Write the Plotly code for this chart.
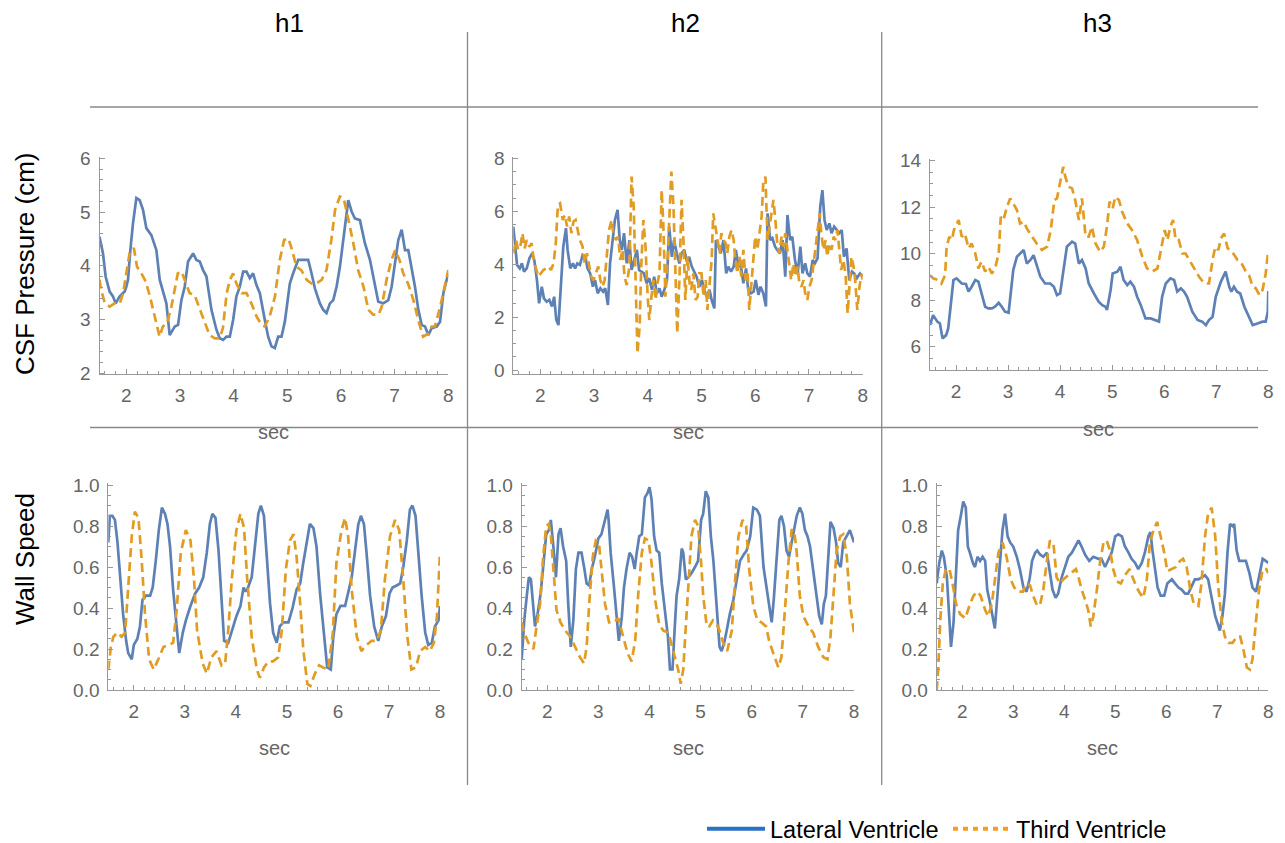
import plotly.graph_objects as go

W, H = 1285, 843

# ---------------- data (seconds, values) ----------------
# CSF Pressure (cm), h1
h1_csf_lat_t = [1.5, 1.565, 1.614, 1.689, 1.751, 1.801, 1.876, 1.969, 2.0, 2.031, 2.075, 2.124, 2.187, 2.249, 2.311, 2.373, 2.466, 2.56, 2.622, 2.746, 2.808, 2.902, 2.964, 3.026, 3.088, 3.15, 3.244, 3.306, 3.368, 3.43, 3.493, 3.586, 3.679, 3.741, 3.803, 3.866, 3.928, 3.99, 4.052, 4.114, 4.177, 4.239, 4.301, 4.363, 4.425, 4.488, 4.581, 4.643, 4.705, 4.767, 4.83, 4.892, 4.954, 5.047, 5.109, 5.203, 5.296, 5.389, 5.451, 5.514, 5.607, 5.669, 5.731, 5.794, 5.856, 5.918, 5.98, 6.073, 6.136, 6.198, 6.26, 6.353, 6.446, 6.54, 6.633, 6.695, 6.789, 6.882, 6.944, 7.006, 7.068, 7.131, 7.193, 7.255, 7.317, 7.379, 7.442, 7.504, 7.566, 7.628, 7.69, 7.784, 7.846, 7.908, 8.0]
h1_csf_lat_v = [4.54, 4.23, 3.80, 3.52, 3.43, 3.30, 3.43, 3.52, 3.61, 3.74, 4.29, 4.79, 5.26, 5.22, 5.04, 4.70, 4.57, 4.29, 3.74, 3.30, 2.71, 2.87, 2.90, 3.36, 3.61, 4.08, 4.23, 4.11, 4.08, 3.92, 3.80, 3.18, 2.81, 2.65, 2.62, 2.68, 2.68, 2.99, 3.43, 3.61, 3.89, 3.89, 3.77, 3.86, 3.64, 3.49, 2.99, 2.68, 2.50, 2.47, 2.68, 2.68, 2.96, 3.67, 3.86, 4.11, 4.11, 4.11, 3.86, 3.58, 3.30, 3.18, 3.12, 3.30, 3.36, 3.61, 3.98, 4.73, 5.22, 5.01, 4.88, 4.85, 4.42, 4.11, 3.64, 3.33, 3.30, 3.36, 3.61, 4.05, 4.48, 4.67, 4.29, 4.29, 3.98, 3.61, 3.18, 2.90, 2.87, 2.71, 2.84, 2.87, 2.96, 3.49, 3.86]
h1_csf_third_t = [1.5, 1.53, 1.60, 1.69, 1.78, 1.88, 1.94, 2.0, 2.06, 2.14, 2.20, 2.28, 2.36, 2.44, 2.53, 2.62, 2.68, 2.76, 2.84, 2.90, 2.96, 3.03, 3.09, 3.18, 3.27, 3.37, 3.46, 3.55, 3.65, 3.74, 3.80, 3.87, 3.93, 3.99, 4.05, 4.15, 4.24, 4.33, 4.43, 4.52, 4.58, 4.67, 4.77, 4.86, 4.94, 5.02, 5.09, 5.17, 5.26, 5.36, 5.45, 5.54, 5.64, 5.73, 5.82, 5.89, 5.98, 6.05, 6.14, 6.23, 6.32, 6.42, 6.51, 6.60, 6.70, 6.76, 6.85, 6.94, 7.01, 7.09, 7.16, 7.25, 7.35, 7.44, 7.53, 7.63, 7.69, 7.75, 7.85, 7.94, 8.0]
h1_csf_third_v = [3.74, 3.55, 3.30, 3.24, 3.30, 3.30, 3.49, 3.86, 4.23, 4.33, 3.98, 3.86, 3.71, 3.43, 3.05, 2.68, 2.87, 2.93, 3.24, 3.55, 3.86, 3.89, 3.74, 3.49, 3.46, 3.18, 2.93, 2.71, 2.65, 2.65, 2.84, 3.49, 3.74, 3.86, 3.67, 3.49, 3.49, 3.30, 3.05, 2.90, 2.87, 3.05, 3.43, 4.11, 4.48, 4.51, 4.29, 3.98, 3.92, 3.74, 3.67, 3.67, 3.74, 3.92, 4.48, 5.04, 5.29, 5.26, 4.85, 4.42, 3.92, 3.61, 3.18, 3.09, 3.09, 3.24, 3.74, 4.11, 4.29, 4.11, 3.86, 3.67, 3.36, 2.99, 2.68, 2.74, 2.87, 2.87, 3.24, 3.67, 3.92]

# CSF Pressure (cm), h2
h2_csf_lat_t = [1.5, 1.535, 1.57, 1.62, 1.66, 1.70, 1.75, 1.80, 1.85, 1.89, 1.94, 1.98, 2.03, 2.07, 2.12, 2.17, 2.22, 2.26, 2.30, 2.34, 2.38, 2.43, 2.48, 2.51, 2.56, 2.61, 2.65, 2.69, 2.74, 2.79, 2.84, 2.88, 2.93, 2.98, 3.02, 3.07, 3.12, 3.17, 3.21, 3.26, 3.30, 3.35, 3.39, 3.44, 3.48, 3.52, 3.56, 3.61, 3.66, 3.70, 3.75, 3.80, 3.84, 3.89, 3.93, 3.98, 4.03, 4.08, 4.12, 4.17, 4.22, 4.26, 4.31, 4.36, 4.40, 4.45, 4.49, 4.54, 4.59, 4.63, 4.68, 4.73, 4.77, 4.82, 4.86, 4.91, 4.96, 5.01, 5.05, 5.10, 5.15, 5.19, 5.24, 5.27, 5.32, 5.36, 5.41, 5.46, 5.50, 5.55, 5.60, 5.64, 5.69, 5.73, 5.78, 5.83, 5.87, 5.92, 5.97, 6.01, 6.06, 6.10, 6.15, 6.20, 6.23, 6.28, 6.32, 6.37, 6.41, 6.46, 6.51, 6.56, 6.60, 6.65, 6.69, 6.74, 6.79, 6.84, 6.88, 6.93, 6.97, 7.02, 7.07, 7.11, 7.16, 7.21, 7.25, 7.29, 7.33, 7.38, 7.42, 7.47, 7.52, 7.56, 7.61, 7.65, 7.70, 7.75, 7.80, 7.84, 7.89, 7.95, 8.0]
h2_csf_lat_v = [5.42, 4.54, 3.97, 3.84, 4.03, 3.72, 3.84, 4.22, 4.41, 4.16, 3.40, 2.52, 3.15, 2.71, 2.58, 2.65, 2.40, 2.77, 1.89, 1.70, 3.03, 4.66, 5.36, 4.54, 3.84, 4.03, 3.84, 4.03, 3.97, 4.35, 4.28, 3.84, 3.65, 3.15, 3.40, 2.90, 3.09, 2.96, 3.09, 2.46, 4.03, 4.91, 5.67, 6.05, 4.91, 4.54, 5.17, 4.03, 4.91, 3.78, 4.22, 4.54, 3.78, 3.72, 3.65, 3.28, 3.47, 3.03, 3.53, 2.90, 3.09, 2.77, 3.03, 3.40, 5.42, 4.28, 4.91, 4.41, 4.03, 4.41, 4.54, 4.10, 4.28, 3.91, 3.72, 3.53, 3.15, 3.40, 3.03, 2.77, 3.03, 2.65, 2.33, 4.91, 4.66, 4.41, 4.91, 3.65, 3.91, 3.72, 3.91, 4.54, 3.91, 3.97, 3.28, 3.84, 3.03, 2.90, 2.96, 3.40, 2.84, 3.15, 2.90, 2.40, 5.92, 4.91, 4.98, 4.66, 4.54, 4.41, 4.91, 3.53, 5.86, 4.91, 5.04, 4.16, 3.65, 4.66, 3.65, 4.03, 3.65, 3.53, 4.16, 4.03, 4.22, 6.17, 6.80, 5.67, 5.29, 5.54, 5.17, 5.42, 5.29, 5.17, 5.29, 4.28, 4.60, 3.40, 3.72, 3.65, 3.47, 3.65, 3.53]
h2_csf_third_t = [1.50, 1.55, 1.59, 1.63, 1.67, 1.71, 1.75, 1.80, 1.84, 1.88, 1.93, 1.97, 2.01, 2.06, 2.11, 2.16, 2.20, 2.25, 2.29, 2.33, 2.37, 2.42, 2.46, 2.50, 2.54, 2.58, 2.62, 2.66, 2.71, 2.74, 2.79, 2.83, 2.87, 2.91, 2.95, 2.99, 3.04, 3.08, 3.12, 3.16, 3.20, 3.24, 3.28, 3.33, 3.36, 3.41, 3.45, 3.49, 3.53, 3.57, 3.61, 3.66, 3.70, 3.74, 3.77, 3.81, 3.85, 3.88, 3.92, 3.96, 4.00, 4.03, 4.07, 4.11, 4.15, 4.18, 4.22, 4.26, 4.29, 4.33, 4.37, 4.41, 4.44, 4.48, 4.52, 4.55, 4.59, 4.63, 4.67, 4.70, 4.74, 4.78, 4.81, 4.85, 4.89, 4.93, 4.96, 5.00, 5.04, 5.08, 5.11, 5.15, 5.19, 5.22, 5.26, 5.30, 5.34, 5.37, 5.41, 5.45, 5.48, 5.52, 5.56, 5.60, 5.63, 5.67, 5.71, 5.74, 5.78, 5.82, 5.86, 5.89, 5.93, 5.97, 6.00, 6.04, 6.08, 6.12, 6.15, 6.19, 6.23, 6.27, 6.30, 6.34, 6.38, 6.41, 6.45, 6.49, 6.53, 6.56, 6.60, 6.64, 6.67, 6.71, 6.75, 6.79, 6.82, 6.86, 6.90, 6.93, 6.97, 7.01, 7.05, 7.08, 7.12, 7.16, 7.20, 7.23, 7.27, 7.31, 7.34, 7.38, 7.42, 7.46, 7.49, 7.53, 7.57, 7.60, 7.64, 7.68, 7.72, 7.75, 7.79, 7.83, 7.86, 7.90, 7.94, 7.98, 8.0]
h2_csf_third_v = [4.41, 4.91, 4.54, 4.66, 5.17, 4.60, 4.91, 4.66, 4.79, 4.16, 3.78, 3.53, 3.65, 3.78, 3.84, 3.91, 3.78, 4.03, 4.79, 6.24, 6.30, 5.67, 5.86, 5.42, 5.80, 5.17, 5.61, 5.67, 5.17, 4.91, 4.66, 4.03, 4.41, 3.91, 3.53, 3.40, 3.65, 3.91, 3.40, 3.15, 3.40, 4.54, 5.29, 5.67, 5.17, 4.91, 5.04, 4.16, 4.54, 3.53, 3.21, 3.91, 7.31, 6.17, 3.28, 0.63, 1.64, 3.91, 5.67, 4.66, 2.77, 1.89, 2.77, 3.40, 2.65, 3.28, 3.65, 6.80, 5.54, 2.77, 4.16, 6.17, 7.50, 6.17, 3.65, 1.39, 3.40, 6.43, 4.66, 2.65, 4.28, 3.28, 3.03, 3.65, 2.65, 2.77, 3.65, 3.65, 2.77, 3.40, 2.27, 3.15, 4.16, 5.92, 5.42, 4.91, 4.41, 5.17, 4.91, 4.79, 4.41, 5.04, 5.29, 4.91, 4.16, 3.65, 4.28, 3.53, 4.54, 3.40, 3.65, 2.27, 3.40, 4.41, 5.04, 4.54, 5.17, 5.80, 7.06, 7.31, 4.91, 5.42, 5.92, 6.43, 5.54, 4.79, 4.41, 5.04, 4.66, 5.17, 4.54, 3.91, 3.40, 4.03, 3.53, 3.91, 3.28, 3.15, 3.40, 2.90, 2.65, 3.15, 3.40, 3.91, 4.66, 5.42, 5.92, 5.17, 4.54, 4.91, 4.28, 4.79, 4.54, 5.04, 4.91, 5.29, 4.54, 3.78, 4.16, 3.65, 2.14, 3.28, 4.28, 3.91, 3.40, 2.27, 3.15, 3.65, 3.28]

# CSF Pressure (cm), h3
h3_csf_lat_t = [1.5, 1.56, 1.64, 1.69, 1.74, 1.81, 1.85, 1.90, 1.95, 2.01, 2.11, 2.19, 2.24, 2.30, 2.37, 2.43, 2.49, 2.56, 2.62, 2.69, 2.75, 2.82, 2.88, 2.94, 3.01, 3.05, 3.10, 3.17, 3.23, 3.30, 3.36, 3.43, 3.49, 3.55, 3.62, 3.71, 3.81, 3.88, 3.94, 4.00, 4.06, 4.13, 4.23, 4.29, 4.36, 4.42, 4.49, 4.55, 4.65, 4.74, 4.81, 4.87, 4.90, 4.97, 5.01, 5.10, 5.16, 5.22, 5.29, 5.35, 5.42, 5.48, 5.55, 5.64, 5.74, 5.83, 5.90, 5.96, 6.03, 6.12, 6.19, 6.25, 6.32, 6.38, 6.44, 6.54, 6.64, 6.73, 6.80, 6.86, 6.93, 6.99, 7.09, 7.18, 7.25, 7.29, 7.34, 7.40, 7.46, 7.54, 7.60, 7.70, 7.79, 7.89, 7.95, 7.99, 8.0]
h3_csf_lat_v = [6.93, 7.36, 7.08, 7.00, 6.36, 6.50, 6.79, 7.72, 8.87, 8.94, 8.72, 8.70, 8.37, 8.58, 8.87, 8.80, 8.29, 7.72, 7.65, 7.65, 7.72, 7.89, 7.72, 7.51, 7.46, 8.29, 9.30, 9.87, 10.01, 10.16, 9.58, 9.73, 9.94, 9.51, 9.01, 8.72, 8.72, 8.58, 8.22, 8.29, 9.15, 10.30, 10.52, 10.44, 9.58, 9.73, 9.37, 8.72, 8.29, 7.94, 7.79, 7.72, 7.58, 8.44, 9.15, 9.23, 9.44, 8.87, 8.65, 8.80, 8.58, 8.15, 7.79, 7.22, 7.22, 7.15, 7.08, 8.15, 8.72, 8.94, 8.87, 8.37, 8.51, 8.37, 8.15, 7.51, 7.15, 7.08, 6.93, 7.15, 7.29, 8.15, 8.80, 9.23, 8.58, 8.37, 8.58, 8.37, 8.29, 7.72, 7.43, 6.93, 7.00, 7.08, 7.08, 7.50, 8.40]
h3_csf_third_t = [1.5, 1.56, 1.66, 1.72, 1.79, 1.82, 1.87, 1.92, 1.96, 2.01, 2.05, 2.11, 2.17, 2.24, 2.30, 2.37, 2.43, 2.49, 2.56, 2.62, 2.69, 2.75, 2.82, 2.86, 2.91, 2.98, 3.04, 3.10, 3.17, 3.23, 3.30, 3.36, 3.46, 3.55, 3.65, 3.75, 3.82, 3.89, 3.94, 4.00, 4.06, 4.10, 4.16, 4.23, 4.29, 4.36, 4.42, 4.49, 4.55, 4.61, 4.68, 4.77, 4.84, 4.90, 4.95, 5.01, 5.06, 5.13, 5.19, 5.29, 5.38, 5.48, 5.58, 5.67, 5.77, 5.87, 5.94, 6.01, 6.06, 6.12, 6.17, 6.22, 6.28, 6.35, 6.41, 6.48, 6.57, 6.67, 6.77, 6.86, 6.93, 6.98, 7.04, 7.09, 7.15, 7.22, 7.28, 7.34, 7.41, 7.47, 7.57, 7.63, 7.70, 7.76, 7.83, 7.89, 7.95, 8.0]
h3_csf_third_v = [9.08, 8.94, 8.87, 8.72, 9.08, 10.30, 10.73, 10.59, 11.02, 11.30, 11.45, 10.73, 10.87, 10.23, 10.44, 10.01, 9.37, 9.66, 9.23, 9.44, 9.15, 9.37, 10.01, 11.59, 11.45, 12.02, 12.38, 12.16, 11.88, 11.30, 11.38, 11.09, 10.73, 10.44, 10.16, 10.30, 11.02, 12.31, 12.38, 13.03, 13.74, 13.31, 12.88, 12.81, 12.31, 11.45, 12.38, 10.73, 10.73, 11.16, 10.44, 10.08, 10.30, 11.16, 12.24, 11.95, 12.45, 12.31, 11.81, 11.30, 11.02, 10.59, 9.87, 9.37, 9.23, 9.37, 10.23, 11.02, 10.59, 11.16, 11.45, 10.59, 10.59, 10.01, 10.01, 9.73, 9.37, 9.01, 8.72, 8.72, 9.73, 10.30, 10.16, 10.66, 10.87, 10.23, 10.16, 9.94, 9.73, 9.66, 9.23, 9.08, 8.58, 8.51, 8.22, 8.44, 9.15, 10.16]

# Wall Speed, h1
h1_wall_lat_t = [1.50, 1.53, 1.58, 1.63, 1.68, 1.73, 1.79, 1.85, 1.89, 1.96, 2.00, 2.07, 2.12, 2.17, 2.24, 2.32, 2.37, 2.43, 2.49, 2.55, 2.61, 2.66, 2.71, 2.77, 2.84, 2.89, 2.96, 3.02, 3.11, 3.20, 3.28, 3.36, 3.43, 3.49, 3.54, 3.60, 3.66, 3.71, 3.77, 3.85, 3.94, 4.01, 4.09, 4.15, 4.19, 4.24, 4.31, 4.37, 4.44, 4.49, 4.55, 4.60, 4.67, 4.73, 4.80, 4.86, 4.93, 5.03, 5.11, 5.19, 5.26, 5.32, 5.39, 5.45, 5.52, 5.58, 5.65, 5.73, 5.79, 5.86, 5.91, 5.97, 6.05, 6.14, 6.20, 6.27, 6.33, 6.40, 6.45, 6.51, 6.56, 6.63, 6.71, 6.79, 6.86, 6.94, 7.01, 7.07, 7.15, 7.22, 7.28, 7.35, 7.41, 7.46, 7.52, 7.57, 7.64, 7.71, 7.77, 7.84, 7.90, 7.97, 8.0]
h1_wall_lat_v = [0.72, 0.85, 0.85, 0.83, 0.72, 0.55, 0.37, 0.24, 0.18, 0.15, 0.22, 0.25, 0.31, 0.44, 0.46, 0.46, 0.50, 0.63, 0.78, 0.89, 0.86, 0.81, 0.70, 0.49, 0.29, 0.18, 0.28, 0.34, 0.41, 0.47, 0.50, 0.55, 0.67, 0.81, 0.86, 0.84, 0.68, 0.46, 0.24, 0.23, 0.31, 0.36, 0.41, 0.50, 0.48, 0.50, 0.55, 0.68, 0.86, 0.90, 0.85, 0.67, 0.42, 0.28, 0.23, 0.31, 0.33, 0.33, 0.40, 0.49, 0.52, 0.62, 0.73, 0.81, 0.79, 0.70, 0.47, 0.26, 0.11, 0.10, 0.26, 0.37, 0.41, 0.41, 0.47, 0.55, 0.67, 0.81, 0.85, 0.81, 0.67, 0.46, 0.31, 0.24, 0.31, 0.36, 0.47, 0.50, 0.51, 0.52, 0.60, 0.73, 0.88, 0.90, 0.85, 0.68, 0.46, 0.28, 0.22, 0.23, 0.31, 0.34, 0.41]
h1_wall_third_t = [1.50, 1.55, 1.60, 1.68, 1.76, 1.83, 1.89, 1.96, 2.02, 2.09, 2.15, 2.22, 2.30, 2.39, 2.48, 2.58, 2.68, 2.77, 2.84, 2.92, 3.02, 3.11, 3.18, 3.24, 3.35, 3.43, 3.52, 3.62, 3.72, 3.79, 3.85, 3.92, 4.01, 4.09, 4.16, 4.22, 4.31, 4.41, 4.47, 4.55, 4.64, 4.73, 4.83, 4.90, 4.98, 5.06, 5.13, 5.19, 5.26, 5.32, 5.40, 5.46, 5.55, 5.63, 5.71, 5.81, 5.90, 5.97, 6.07, 6.14, 6.20, 6.27, 6.37, 6.46, 6.56, 6.66, 6.76, 6.84, 6.92, 7.02, 7.12, 7.20, 7.28, 7.36, 7.44, 7.53, 7.61, 7.71, 7.80, 7.88, 7.94, 8.0]
h1_wall_third_v = [0.10, 0.21, 0.26, 0.28, 0.26, 0.28, 0.50, 0.75, 0.87, 0.84, 0.65, 0.37, 0.15, 0.10, 0.15, 0.21, 0.22, 0.23, 0.39, 0.67, 0.78, 0.73, 0.54, 0.29, 0.13, 0.08, 0.16, 0.19, 0.12, 0.13, 0.29, 0.54, 0.78, 0.86, 0.79, 0.55, 0.26, 0.10, 0.06, 0.11, 0.14, 0.14, 0.16, 0.29, 0.59, 0.73, 0.76, 0.65, 0.42, 0.20, 0.03, 0.02, 0.08, 0.12, 0.11, 0.10, 0.28, 0.62, 0.78, 0.84, 0.75, 0.49, 0.26, 0.19, 0.22, 0.24, 0.24, 0.29, 0.54, 0.75, 0.83, 0.78, 0.54, 0.26, 0.10, 0.11, 0.19, 0.21, 0.19, 0.23, 0.36, 0.67]

# Wall Speed, h2
h2_wall_lat_t = [1.50, 1.55, 1.60, 1.64, 1.68, 1.72, 1.76, 1.81, 1.87, 1.92, 1.98, 2.03, 2.07, 2.12, 2.17, 2.22, 2.26, 2.31, 2.37, 2.41, 2.46, 2.51, 2.56, 2.61, 2.67, 2.72, 2.77, 2.82, 2.87, 2.93, 3.00, 3.06, 3.13, 3.18, 3.20, 3.24, 3.31, 3.36, 3.40, 3.46, 3.50, 3.55, 3.61, 3.66, 3.71, 3.75, 3.80, 3.85, 3.91, 3.96, 4.00, 4.04, 4.09, 4.14, 4.19, 4.24, 4.30, 4.36, 4.40, 4.45, 4.49, 4.53, 4.58, 4.63, 4.66, 4.71, 4.76, 4.82, 4.89, 4.95, 5.01, 5.05, 5.10, 5.15, 5.20, 5.25, 5.31, 5.37, 5.41, 5.46, 5.51, 5.57, 5.64, 5.70, 5.77, 5.84, 5.90, 5.97, 6.03, 6.10, 6.16, 6.23, 6.29, 6.34, 6.39, 6.43, 6.49, 6.54, 6.58, 6.63, 6.68, 6.73, 6.78, 6.83, 6.88, 6.94, 6.99, 7.04, 7.09, 7.14, 7.20, 7.27, 7.32, 7.37, 7.41, 7.45, 7.50, 7.54, 7.60, 7.65, 7.69, 7.74, 7.79, 7.86, 7.92, 8.0]
h2_wall_lat_v = [0.15, 0.34, 0.46, 0.55, 0.54, 0.42, 0.31, 0.37, 0.47, 0.60, 0.76, 0.78, 0.83, 0.70, 0.55, 0.76, 0.79, 0.70, 0.63, 0.42, 0.21, 0.34, 0.59, 0.67, 0.67, 0.60, 0.52, 0.51, 0.59, 0.65, 0.74, 0.76, 0.83, 0.88, 0.83, 0.67, 0.49, 0.36, 0.24, 0.36, 0.50, 0.59, 0.67, 0.65, 0.59, 0.67, 0.75, 0.76, 0.94, 0.96, 0.99, 0.93, 0.75, 0.68, 0.67, 0.52, 0.39, 0.26, 0.10, 0.10, 0.29, 0.46, 0.54, 0.69, 0.67, 0.54, 0.55, 0.57, 0.60, 0.63, 0.83, 0.86, 0.97, 0.94, 0.75, 0.63, 0.42, 0.21, 0.19, 0.23, 0.29, 0.37, 0.44, 0.52, 0.63, 0.66, 0.68, 0.75, 0.89, 0.88, 0.85, 0.60, 0.50, 0.42, 0.33, 0.44, 0.63, 0.83, 0.85, 0.80, 0.68, 0.65, 0.72, 0.78, 0.85, 0.89, 0.86, 0.78, 0.75, 0.70, 0.59, 0.47, 0.36, 0.32, 0.42, 0.46, 0.67, 0.82, 0.79, 0.72, 0.62, 0.60, 0.72, 0.75, 0.78, 0.72]
h2_wall_third_t = [1.50, 1.55, 1.63, 1.73, 1.79, 1.86, 1.92, 1.98, 2.03, 2.07, 2.12, 2.18, 2.26, 2.35, 2.45, 2.54, 2.64, 2.72, 2.77, 2.82, 2.89, 2.95, 3.01, 3.06, 3.13, 3.21, 3.31, 3.39, 3.48, 3.57, 3.65, 3.72, 3.78, 3.85, 3.91, 3.98, 4.04, 4.11, 4.19, 4.27, 4.37, 4.47, 4.56, 4.61, 4.66, 4.71, 4.76, 4.82, 4.89, 4.95, 5.01, 5.05, 5.12, 5.17, 5.24, 5.30, 5.37, 5.44, 5.52, 5.61, 5.67, 5.74, 5.82, 5.89, 5.95, 6.03, 6.11, 6.19, 6.28, 6.34, 6.42, 6.52, 6.58, 6.65, 6.72, 6.78, 6.83, 6.88, 6.94, 7.01, 7.11, 7.20, 7.30, 7.40, 7.48, 7.54, 7.61, 7.66, 7.73, 7.79, 7.86, 7.92, 8.0]
h2_wall_third_v = [0.33, 0.28, 0.23, 0.20, 0.31, 0.42, 0.65, 0.80, 0.81, 0.76, 0.59, 0.39, 0.33, 0.29, 0.26, 0.21, 0.16, 0.13, 0.21, 0.42, 0.65, 0.73, 0.72, 0.59, 0.42, 0.33, 0.33, 0.35, 0.26, 0.18, 0.14, 0.24, 0.47, 0.67, 0.74, 0.73, 0.62, 0.44, 0.32, 0.29, 0.28, 0.18, 0.10, 0.03, 0.10, 0.31, 0.50, 0.75, 0.83, 0.80, 0.62, 0.46, 0.31, 0.31, 0.34, 0.33, 0.29, 0.23, 0.19, 0.29, 0.52, 0.75, 0.83, 0.80, 0.59, 0.41, 0.34, 0.33, 0.31, 0.24, 0.18, 0.11, 0.16, 0.42, 0.63, 0.78, 0.78, 0.67, 0.46, 0.36, 0.31, 0.28, 0.21, 0.16, 0.15, 0.26, 0.50, 0.68, 0.75, 0.76, 0.65, 0.42, 0.28]

# Wall Speed, h3
h3_wall_lat_t = [1.50, 1.55, 1.60, 1.64, 1.70, 1.74, 1.78, 1.83, 1.88, 1.92, 1.98, 2.02, 2.07, 2.11, 2.15, 2.21, 2.25, 2.30, 2.35, 2.40, 2.45, 2.49, 2.55, 2.60, 2.64, 2.69, 2.74, 2.79, 2.84, 2.89, 2.94, 3.00, 3.07, 3.13, 3.20, 3.26, 3.32, 3.37, 3.43, 3.47, 3.53, 3.59, 3.66, 3.71, 3.77, 3.83, 3.88, 3.95, 4.02, 4.08, 4.15, 4.21, 4.28, 4.34, 4.41, 4.49, 4.57, 4.67, 4.73, 4.80, 4.86, 4.93, 5.00, 5.06, 5.13, 5.19, 5.26, 5.32, 5.39, 5.45, 5.52, 5.58, 5.65, 5.69, 5.73, 5.78, 5.83, 5.89, 5.96, 6.02, 6.11, 6.17, 6.24, 6.30, 6.37, 6.43, 6.50, 6.56, 6.63, 6.69, 6.76, 6.82, 6.89, 6.96, 7.00, 7.05, 7.10, 7.15, 7.20, 7.25, 7.30, 7.33, 7.38, 7.43, 7.50, 7.56, 7.63, 7.69, 7.76, 7.82, 7.89, 7.95, 8.0]
h3_wall_lat_v = [0.52, 0.62, 0.68, 0.65, 0.55, 0.37, 0.21, 0.33, 0.57, 0.78, 0.86, 0.92, 0.89, 0.70, 0.67, 0.62, 0.60, 0.65, 0.63, 0.65, 0.63, 0.49, 0.42, 0.36, 0.30, 0.46, 0.63, 0.78, 0.86, 0.75, 0.72, 0.70, 0.65, 0.59, 0.50, 0.48, 0.54, 0.63, 0.67, 0.68, 0.66, 0.65, 0.67, 0.59, 0.49, 0.45, 0.47, 0.55, 0.60, 0.65, 0.67, 0.70, 0.73, 0.70, 0.66, 0.63, 0.65, 0.64, 0.64, 0.60, 0.63, 0.67, 0.75, 0.76, 0.75, 0.70, 0.67, 0.64, 0.62, 0.59, 0.62, 0.67, 0.75, 0.77, 0.68, 0.59, 0.50, 0.46, 0.46, 0.52, 0.54, 0.52, 0.50, 0.49, 0.47, 0.47, 0.51, 0.54, 0.54, 0.55, 0.56, 0.54, 0.44, 0.36, 0.33, 0.29, 0.36, 0.47, 0.67, 0.81, 0.80, 0.81, 0.68, 0.63, 0.63, 0.63, 0.57, 0.50, 0.48, 0.55, 0.64, 0.63, 0.62]
h3_wall_third_t = [1.50, 1.53, 1.57, 1.62, 1.68, 1.75, 1.81, 1.88, 1.96, 2.06, 2.14, 2.22, 2.30, 2.36, 2.45, 2.51, 2.58, 2.64, 2.71, 2.79, 2.87, 2.95, 3.02, 3.10, 3.19, 3.26, 3.33, 3.39, 3.47, 3.53, 3.59, 3.66, 3.72, 3.79, 3.85, 3.92, 3.98, 4.08, 4.17, 4.23, 4.28, 4.34, 4.41, 4.47, 4.52, 4.57, 4.64, 4.70, 4.77, 4.83, 4.90, 4.96, 5.03, 5.11, 5.19, 5.28, 5.34, 5.42, 5.49, 5.55, 5.62, 5.68, 5.75, 5.82, 5.89, 5.96, 6.02, 6.11, 6.19, 6.27, 6.33, 6.40, 6.47, 6.54, 6.63, 6.69, 6.76, 6.82, 6.89, 6.96, 7.02, 7.09, 7.15, 7.22, 7.30, 7.38, 7.45, 7.51, 7.58, 7.64, 7.69, 7.76, 7.82, 7.89, 7.96, 8.0]
h3_wall_third_v = [0.0, 0.10, 0.34, 0.52, 0.59, 0.59, 0.52, 0.42, 0.37, 0.35, 0.41, 0.46, 0.48, 0.46, 0.39, 0.36, 0.42, 0.55, 0.67, 0.72, 0.65, 0.54, 0.50, 0.48, 0.48, 0.52, 0.51, 0.46, 0.41, 0.42, 0.49, 0.63, 0.73, 0.71, 0.55, 0.52, 0.54, 0.56, 0.58, 0.59, 0.55, 0.49, 0.44, 0.39, 0.31, 0.36, 0.49, 0.62, 0.72, 0.73, 0.68, 0.59, 0.53, 0.52, 0.56, 0.59, 0.55, 0.50, 0.47, 0.45, 0.54, 0.72, 0.78, 0.82, 0.75, 0.67, 0.58, 0.59, 0.60, 0.63, 0.64, 0.60, 0.49, 0.42, 0.41, 0.52, 0.75, 0.86, 0.89, 0.75, 0.50, 0.33, 0.26, 0.23, 0.23, 0.26, 0.26, 0.20, 0.11, 0.10, 0.15, 0.34, 0.49, 0.59, 0.59, 0.57]

col_titles = ["h1", "h2", "h3"]
row_titles = ["CSF Pressure (cm)", "Wall Speed"]
series_names = ["Lateral Ventricle", "Third Ventricle"]

# ---------------- styling ----------------
FONT = "Liberation Sans, Arial, Helvetica, sans-serif"
BLUE = "#5E81B5"
ORANGE = "#E19C24"
LEG_BLUE = "#2a72c6"
LEG_ORANGE = "#ff9a1c"
AXC = "#999999"
TXT = "#666666"
SEP = "#888888"


def px_x(p):
    return p / W


def px_y(p):
    return 1 - p / H


panels = [
    (h1_csf_lat_t, h1_csf_lat_v, h1_csf_third_t, h1_csf_third_v, (99.5, 448.3), (374.3, 156.7), [1.98, 6.03], 1, 0.2, None),
    (h2_csf_lat_t, h2_csf_lat_v, h2_csf_third_t, h2_csf_third_v, (513.3, 862.7), (374.3, 156.7), [-0.16, 8.06], 2, 0.5, None),
    (h3_csf_lat_t, h3_csf_lat_v, h3_csf_third_t, h3_csf_third_v, (930.0, 1268.3), (370.0, 159.3), [5.0, 14.06], 2, 0.5, None),
    (h1_wall_lat_t, h1_wall_lat_v, h1_wall_third_t, h1_wall_third_v, (108.3, 440.0), (690.0, 483.0), [0.0, 1.01], 0.2, 0.05, ".1f"),
    (h2_wall_lat_t, h2_wall_lat_v, h2_wall_third_t, h2_wall_third_v, (521.7, 854.0), (690.0, 483.0), [0.0, 1.01], 0.2, 0.05, ".1f"),
    (h3_wall_lat_t, h3_wall_lat_v, h3_wall_third_t, h3_wall_third_v, (936.7, 1268.3), (690.0, 483.0), [0.0, 1.01], 0.2, 0.05, ".1f"),
]

fig = go.Figure()
layout = dict(
    width=W, height=H,
    margin=dict(l=0, r=0, t=0, b=0, pad=0, autoexpand=False),
    paper_bgcolor="white", plot_bgcolor="white",
    font=dict(family=FONT, color=TXT),
    showlegend=True,
)

tickfont = dict(family=FONT, size=19, color=TXT)

for i, (tl, vl, tt, vt, xp, yp, yr, dt, mdt, fmt) in enumerate(panels):
    n = i + 1
    xs = "x" if n == 1 else f"x{n}"
    ys = "y" if n == 1 else f"y{n}"
    fig.add_trace(go.Scatter(x=tl, y=vl, mode="lines", xaxis=xs, yaxis=ys,
                             line=dict(color=BLUE, width=2.7), showlegend=False,
                             name=series_names[0]))
    fig.add_trace(go.Scatter(x=tt, y=vt, mode="lines", xaxis=xs, yaxis=ys,
                             line=dict(color=ORANGE, width=2.7, dash="9px,5px"),
                             showlegend=False, name=series_names[1]))
    xa = dict(
        domain=[px_x(xp[0]), px_x(xp[1])], range=[1.5, 8.0], anchor=ys,
        showline=True, linecolor=AXC, linewidth=1, mirror=False,
        ticks="inside", ticklen=5, tickwidth=1, tickcolor=AXC,
        tick0=0, dtick=1, showgrid=False, zeroline=False,
        minor=dict(ticks="inside", ticklen=3, tickwidth=1, tickcolor=AXC, dtick=0.2, tick0=0, showgrid=False),
        tickfont=tickfont, ticklabelstandoff=4, fixedrange=True, automargin=False,
    )
    ya = dict(
        domain=[px_y(yp[0]), px_y(yp[1])], range=yr, anchor=xs,
        showline=True, linecolor=AXC, linewidth=1,
        ticks="inside", ticklen=5, tickwidth=1, tickcolor=AXC,
        tick0=0, dtick=dt, showgrid=False, zeroline=False,
        minor=dict(ticks="inside", ticklen=3, tickwidth=1, tickcolor=AXC, dtick=mdt, tick0=0, showgrid=False),
        tickfont=tickfont, ticklabelstandoff=4, fixedrange=True, automargin=False,
    )
    if fmt:
        ya["tickformat"] = fmt
    layout["xaxis" if n == 1 else f"xaxis{n}"] = xa
    layout["yaxis" if n == 1 else f"yaxis{n}"] = ya

# legend-only entries (legend colours differ from plotted lines in the original)
fig.add_trace(go.Scatter(x=[None], y=[None], mode="lines", name=series_names[0],
                         line=dict(color=LEG_BLUE, width=4), showlegend=True, legend="legend"))
fig.add_trace(go.Scatter(x=[None], y=[None], mode="lines", name=series_names[1],
                         line=dict(color=LEG_ORANGE, width=4, dash="5px,5px"), showlegend=True,
                         legend="legend2"))

leg_common = dict(
    orientation="h", xanchor="left", y=px_y(829), yanchor="middle",
    font=dict(family=FONT, size=23.5, color="black"), itemwidth=58,
    bgcolor="rgba(0,0,0,0)", itemclick=False, itemdoubleclick=False,
)
layout["legend"] = dict(x=px_x(702), **leg_common)
layout["legend2"] = dict(x=px_x(948), **leg_common)

annotations = []
for title, xc in zip(col_titles, [289, 685, 1097]):
    annotations.append(dict(text=title, x=px_x(xc), y=px_y(23), xref="paper", yref="paper",
                            showarrow=False, xanchor="center", yanchor="middle",
                            font=dict(family=FONT, size=26, color="black")))
for title, yc in zip(row_titles, [264, 559]):
    annotations.append(dict(text=title, x=px_x(25), y=px_y(yc), xref="paper", yref="paper",
                            showarrow=False, xanchor="center", yanchor="middle", textangle=-90,
                            font=dict(family=FONT, size=26, color="black")))
for (xc, yc) in [(273, 432), (688, 432), (1098, 429), (274, 748), (688, 748), (1102, 748)]:
    annotations.append(dict(text="sec", x=px_x(xc), y=px_y(yc), xref="paper", yref="paper",
                            showarrow=False, xanchor="center", yanchor="middle",
                            font=dict(family=FONT, size=20, color=TXT)))
layout["annotations"] = annotations

shapes = []
for y0 in [107, 427.5]:
    shapes.append(dict(type="line", xref="paper", yref="paper", x0=px_x(90), x1=px_x(1258),
                       y0=px_y(y0), y1=px_y(y0), line=dict(color=SEP, width=1.3)))
for x0 in [467.5, 881.7]:
    shapes.append(dict(type="line", xref="paper", yref="paper", x0=px_x(x0), x1=px_x(x0),
                       y0=px_y(32), y1=px_y(785), line=dict(color=SEP, width=1.3)))
layout["shapes"] = shapes

fig.update_layout(**layout)
fig.write_html("out.html")
